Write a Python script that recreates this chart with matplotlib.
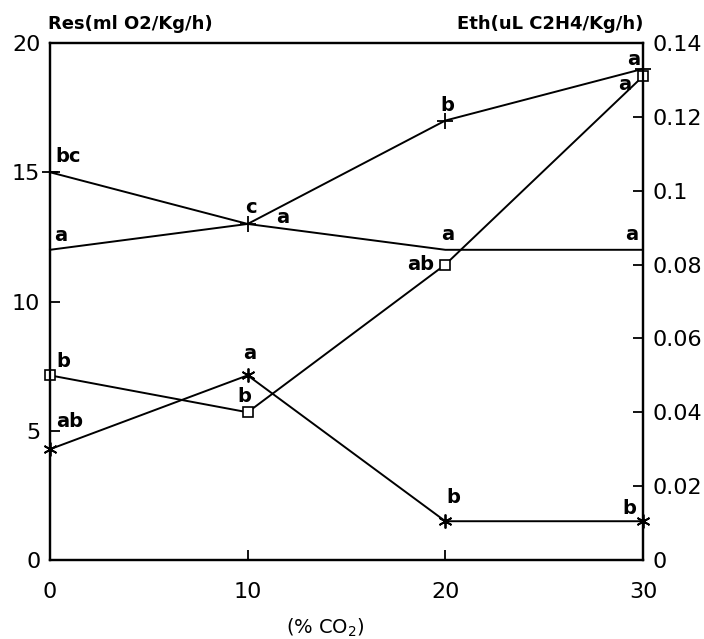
import numpy as np
import matplotlib.pyplot as plt

co2 = [0, 10, 20, 30]

# respiration (left axis)
res_a = [15, 13, 17, 19]
res_a_letters = ["bc", "c", "b", "a"]
res_b = [12, 13, 12, 12]
res_b_letters = ["a", "a", "a", "a"]

# ethylene (right axis)
eth_sq = [0.05, 0.04, 0.08, 0.131]
eth_sq_letters = ["b", "b", "ab", "a"]
eth_st = [0.03, 0.05, 0.0105, 0.0105]
eth_st_letters = ["ab", "a", "b", "b"]

left_ticks = [0, 5, 10, 15, 20]
right_ticks = [0, 0.02, 0.04, 0.06, 0.08, 0.1, 0.12, 0.14]
right_labels = ["0", "0.02", "0.04", "0.06", "0.08", "0.1", "0.12", "0.14"]

fig = plt.figure(figsize=(7.04, 6.39), dpi=100)
ax = fig.add_axes([50/704, 1-560/639, 593/704, 517/639])
ax2 = ax.twinx()

lw = 1.4
ax.plot(co2, res_a, color="k", lw=lw, marker="+", ms=11, mew=1.3, clip_on=False)
ax.plot(co2, res_b, color="k", lw=lw, clip_on=False)
ax2.plot(co2, eth_sq, color="k", lw=lw, marker="s", ms=7, mfc="white", mew=1.2, clip_on=False)
ax2.plot(co2, eth_st, color="k", lw=lw, marker=(6, 2, 0), ms=10, mew=1.3, clip_on=False)

ax.set_xlim(0, 30)
ax.set_ylim(0, 20)
ax2.set_ylim(0, 0.14)

ax.set_xticks(co2)
ax.set_yticks(left_ticks)
ax2.set_yticks(right_ticks)
ax2.set_yticklabels(right_labels)

ax.tick_params(axis="x", direction="in", length=7, width=1.3, labelsize=16, pad=16)
ax.tick_params(axis="y", direction="in", length=7, width=1.3, labelsize=16, pad=7)
ax2.tick_params(axis="y", direction="in", length=7, width=1.3, labelsize=16, pad=7)
for a in (ax, ax2):
    for s in a.spines.values():
        s.set_linewidth(1.6)

def letters(axis, xs, ys, labs, offs):
    for x, y, t, o in zip(xs, ys, labs, offs):
        axis.annotate(t, (x, y), xytext=o, textcoords="offset pixels",
                      ha="center", va="center", fontsize=14, fontweight="bold")

letters(ax, co2, res_a, res_a_letters, [(18, 16), (3, 16), (2, 15), (-9, 9)])
letters(ax, co2, res_b, res_b_letters, [(11, 14), (35, 6), (2, 15), (-11, 15)])
letters(ax2, co2, eth_sq, eth_sq_letters, [(13, 14), (-3, 16), (-25, 0), (-18, -8)])
letters(ax2, co2, eth_st, eth_st_letters, [(20, 28), (2, 22), (8, 24), (-14, 13)])

fig.text(48/704, 1-24/639, "Res(ml O2/Kg/h)", fontsize=13, fontweight="bold", ha="left", va="center")
fig.text(643/704, 1-24/639, "Eth(uL C2H4/Kg/h)", fontsize=13, fontweight="bold", ha="right", va="center")
fig.text(325/704, 1-628/639, "(% CO$_2$)", fontsize=14, ha="center", va="center")

fig.savefig("out.png", dpi=100)
